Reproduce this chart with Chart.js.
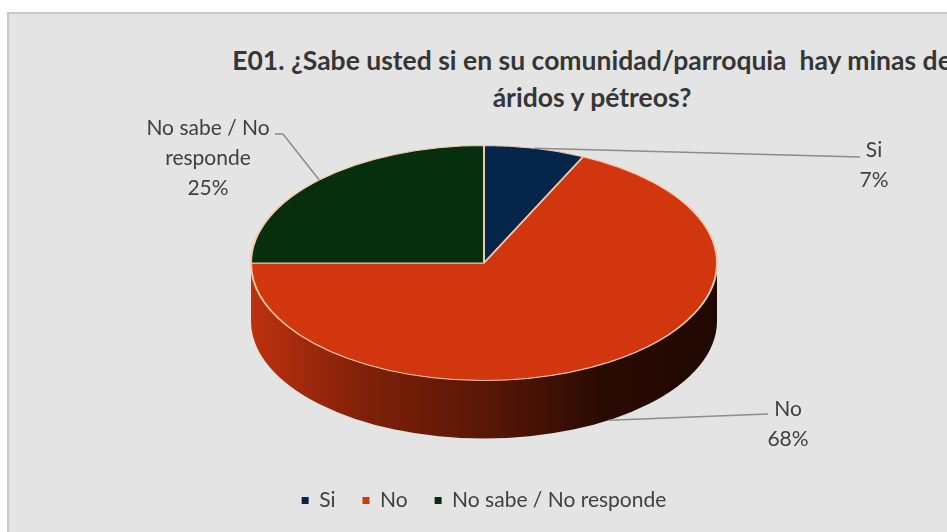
<!DOCTYPE html>
<html>
<head>
<meta charset="utf-8">
<script src="https://cdn.jsdelivr.net/npm/chart.js@4.4.0/dist/chart.umd.min.js"></script>
<style>
    html, body { margin: 0; padding: 0; width: 947px; height: 532px; overflow: hidden; background: #ffffff; }
    #box { position: absolute; left: 7px; top: 12px; width: 1200px; height: 600px; background: #e4e4e4;
           border-top: 2px solid #c8c8c8; border-left: 2px solid #c8c8c8; }
    .title { position: absolute; left: 592px; transform: translateX(-50%); white-space: nowrap;
             font-family: Lato, sans-serif; font-weight: bold; font-size: 26.5px; color: #363636; }
    #t1 { top: 44px; }
    #t2 { top: 81px; }
    canvas { position: absolute; left: 0; top: 0; }
</style>
</head>
<body>
<div id="box"></div>
<div class="title" id="t1">E01. ¿Sabe usted si en su comunidad/parroquia&nbsp; hay minas de</div>
<div class="title" id="t2">áridos y pétreos?</div>
<canvas id="myChart" width="947" height="532"></canvas>
<script>
// Datos del gráfico
const categories = ['Si', 'No', 'No sabe / No responde'];
const percentValues = [7, 68, 25];
const sliceColors = ['#05264a', '#d2360f', '#072f0e'];

const FONT = 'Lato, sans-serif';
const TEXT_COLOR = '#404040';

// Geometría del pastel 3D (pantalla)
const CX = 484, CY = 263, RY = 117.5, DEPTH = 58;

function shade(hex, f) {
    const n = parseInt(hex.slice(1), 16);
    const r = Math.round(((n >> 16) & 255) * f);
    const g = Math.round(((n >> 8) & 255) * f);
    const b = Math.round((n & 255) * f);
    return `rgb(${r},${g},${b})`;
}

// Dibuja las paredes laterales y aplana la cara superior
const pie3d = {
    id: 'pie3d',
    beforeDatasetsDraw(chart) {
        const meta = chart.getDatasetMeta(0);
        const first = meta.data[0];
        const r = first.outerRadius;
        const ctx = chart.ctx;
        ctx.save();
        meta.data.forEach((arc, i) => {
            const s = Math.max(arc.startAngle, 0);
            const e = Math.min(arc.endAngle, Math.PI);
            if (e <= s) return;
            const color = sliceColors[i];
            const grad = ctx.createLinearGradient(CX - r, 0, CX + r, 0);
            grad.addColorStop(0, shade(color, 0.9));
            grad.addColorStop(0.25, shade(color, 0.6));
            grad.addColorStop(0.5, shade(color, 0.43));
            grad.addColorStop(0.75, shade(color, 0.2));
            grad.addColorStop(1, shade(color, 0.15));
            ctx.beginPath();
            ctx.ellipse(CX, CY, r, RY, 0, s, e, false);
            ctx.ellipse(CX, CY + DEPTH, r, RY, 0, e, s, true);
            ctx.closePath();
            ctx.fillStyle = grad;
            ctx.fill();
        });
        ctx.restore();

        ctx.save();
        ctx.translate(CX, CY);
        ctx.scale(1, RY / r);
        ctx.translate(-first.x, -first.y);
    },
    afterDatasetsDraw(chart) {
        chart.ctx.restore();
    }
};

function wrapText(ctx, text, maxWidth) {
    const words = text.split(' ');
    const lines = [];
    let line = '';
    words.forEach(w => {
        const test = line ? line + ' ' + w : w;
        if (ctx.measureText(test).width > maxWidth && line) {
            lines.push(line);
            line = w;
        } else {
            line = test;
        }
    });
    lines.push(line);
    return lines;
}

// Etiquetas de datos con líneas guía
const labelPlaces = [
    { x: 874, y: 150, lineTo: [[860, 157]] },
    { x: 788, y: 409, lineTo: [[768, 414]] },
    { x: 208, y: 128, lineTo: [[283, 134], [275, 134]] }
];

const sliceLabels = {
    id: 'sliceLabels',
    afterDraw(chart) {
        const meta = chart.getDatasetMeta(0);
        const ctx = chart.ctx;
        ctx.save();
        ctx.font = `21px ${FONT}`;
        meta.data.forEach((arc, i) => {
            const r = arc.outerRadius;
            const m = (arc.startAngle + arc.endAngle) / 2;
            let ax = CX + r * Math.cos(m);
            let ay = CY + RY * Math.sin(m);
            if (Math.sin(m) > 0) ay += DEPTH;
            const place = labelPlaces[i];
            ctx.beginPath();
            ctx.moveTo(ax, ay);
            place.lineTo.forEach(p => ctx.lineTo(p[0], p[1]));
            ctx.strokeStyle = '#8c8c8c';
            ctx.lineWidth = 1.5;
            ctx.stroke();

            const lines = wrapText(ctx, categories[i], 135);
            lines.push(percentValues[i] + '%');
            ctx.fillStyle = TEXT_COLOR;
            ctx.textAlign = 'center';
            ctx.textBaseline = 'middle';
            lines.forEach((t, k) => ctx.fillText(t, place.x, place.y + k * 30));
        });
        ctx.restore();
    }
};

const ctx = document.getElementById('myChart').getContext('2d');
new Chart(ctx, {
    type: 'pie',
    data: {
        labels: categories,
        datasets: [{
            data: percentValues,
            backgroundColor: sliceColors,
            borderColor: '#f3c8a8',
            borderWidth: 2,
            clip: false
        }]
    },
    options: {
        responsive: false,
        animation: false,
        radius: 233,
        layout: { padding: { left: 21, right: 0, top: 0, bottom: 11 } },
        plugins: {
            tooltip: { enabled: false },
            legend: {
                position: 'bottom',
                labels: {
                    boxWidth: 7,
                    boxHeight: 7,
                    padding: 27,
                    color: TEXT_COLOR,
                    font: { family: FONT, size: 21 },
                    generateLabels: function(chart) {
                        const items = Chart.overrides.pie.plugins.legend.labels.generateLabels(chart);
                        items.forEach(it => { it.strokeStyle = it.fillStyle; it.lineWidth = 0; });
                        return items;
                    }
                }
            }
        }
    },
    plugins: [pie3d, sliceLabels]
});
</script>
</body>
</html>
